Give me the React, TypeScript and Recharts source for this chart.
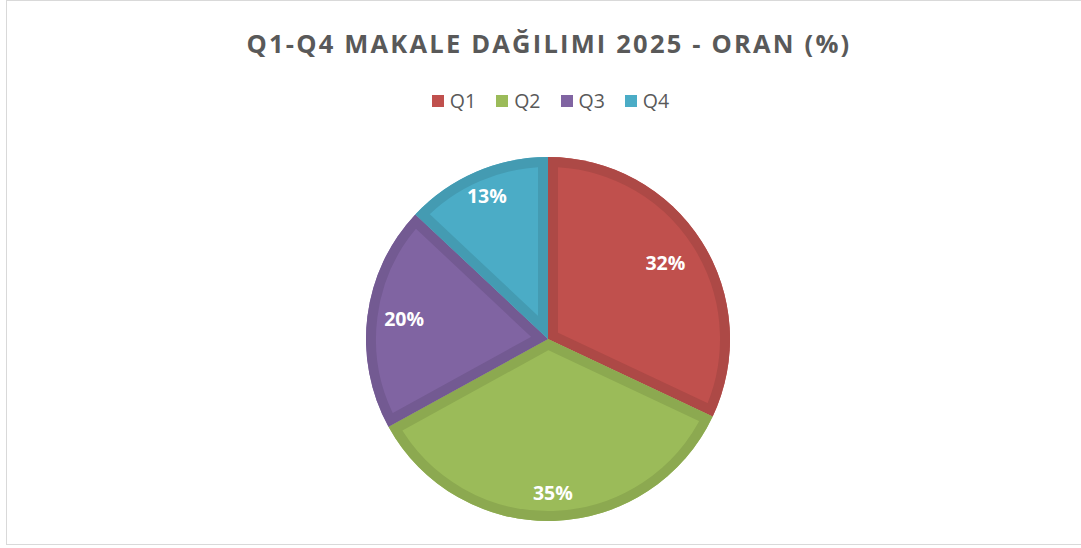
import { PieChart, Pie, Cell, Legend, Sector } from "recharts";

const categories = ["Q1", "Q2", "Q3", "Q4"];
const shares = [32, 35, 20, 13];
const fills = ["#C0504D", "#9BBB59", "#8064A2", "#4BACC6"];
const borders = ["#AD4946", "#8CA950", "#735A92", "#449BB2"];
const labelRadius = [139, 156, 145, 154];

const data = categories.map((name, i) => ({ name, value: shares[i] }));

const FONT = "'Open Sans', 'Noto Sans', sans-serif";
const RAD = Math.PI / 180;

function SliceLabel(props: any) {
    const { cx, cy, innerRadius, outerRadius, startAngle, endAngle, midAngle, index, percent } = props;
    const r = labelRadius[index];
    const x = cx + r * Math.cos(-midAngle * RAD);
    const y = cy + r * Math.sin(-midAngle * RAD) - 2;
    const id = `slice-clip-${index}`;
    return (
        <g>
            <defs>
                <clipPath id={id}>
                    <Sector cx={cx} cy={cy} innerRadius={innerRadius} outerRadius={outerRadius} startAngle={startAngle} endAngle={endAngle} />
                </clipPath>
            </defs>
            <Sector
                cx={cx}
                cy={cy}
                innerRadius={innerRadius}
                outerRadius={outerRadius}
                startAngle={startAngle}
                endAngle={endAngle}
                fill="none"
                stroke={borders[index]}
                strokeWidth={20}
                strokeLinejoin="miter"
                clipPath={`url(#${id})`}
            />
            <text
                x={x}
                y={y}
                fill="#ffffff"
                textAnchor="middle"
                dominantBaseline="central"
                style={{ fontFamily: FONT, fontWeight: 700, fontSize: 19.5 }}
            >
                {`${Math.round(percent * 100)}%`}
            </text>
        </g>
    );
}

function LegendRow({ payload }: any) {
    return (
        <div style={{ display: "flex", justifyContent: "center", gap: 20, fontFamily: FONT, fontSize: 19.5, color: "#595959" }}>
            {(payload || []).map((p: any, i: number) => (
                <div key={i} style={{ display: "flex", alignItems: "center", gap: 6 }}>
                    <span style={{ width: 12, height: 12, background: p.color, display: "inline-block" }} />
                    <span>{p.value}</span>
                </div>
            ))}
        </div>
    );
}

export default function App() {
    return (
        <div style={{ position: "absolute", left: 0, top: 0, width: 1081, height: 548, background: "#ffffff" }}>
            <div
                style={{
                    position: "absolute",
                    left: 6,
                    top: 0,
                    width: 1090,
                    height: 545,
                    border: "1.5px solid #d9d9d9",
                    boxSizing: "border-box",
                }}
            />
            <div
                style={{
                    position: "absolute",
                    left: 0,
                    top: 25,
                    width: 1098,
                    textAlign: "center",
                    fontFamily: FONT,
                    fontWeight: 700,
                    fontSize: 25.5,
                    letterSpacing: 2.2,
                    color: "#595959",
                    lineHeight: "36px",
                }}
            >
                Q1-Q4 MAKALE DAĞILIMI 2025 - ORAN (%)
            </div>
            <PieChart width={1081} height={548} style={{ position: "absolute", left: 0, top: 0 }}>
                <Legend
                    verticalAlign="top"
                    align="center"
                    content={<LegendRow />}
                    wrapperStyle={{ top: 87, left: 10, width: 1081 }}
                />
                <Pie
                    data={data}
                    dataKey="value"
                    nameKey="name"
                    cx={543}
                    cy={307}
                    outerRadius={182}
                    startAngle={90}
                    endAngle={-270}
                    stroke="none"
                    labelLine={false}
                    label={SliceLabel}
                    isAnimationActive={false}
                >
                    {data.map((d, i) => (
                        <Cell key={d.name} fill={fills[i]} />
                    ))}
                </Pie>
            </PieChart>
        </div>
    );
}
